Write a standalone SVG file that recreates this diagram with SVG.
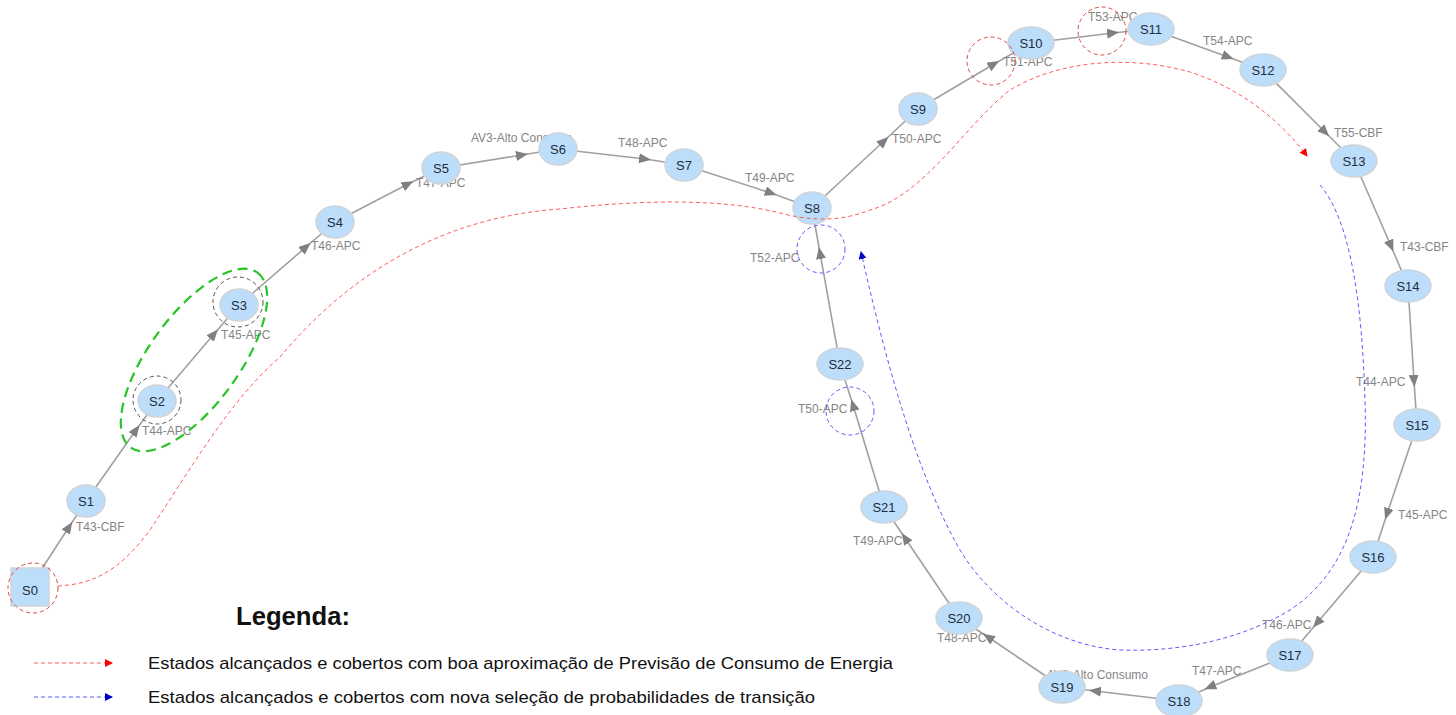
<svg xmlns="http://www.w3.org/2000/svg" width="1456" height="715" viewBox="0 0 1456 715">
  <defs>
    <style>
      .edge { fill: none; stroke: #a0a0a0; stroke-width: 1.6; marker-mid: url(#ah); }
      .elab { font-family: "Liberation Sans", Arial, sans-serif; font-size: 12px; fill: #858585; }
      .node ellipse, .node rect { fill: #bcdefb; stroke: #cfd4d8; stroke-width: 1.5; }
      .node text { font-family: "Liberation Sans", Arial, sans-serif; font-size: 13px; fill: #1e2d3d; text-anchor: middle; }
      .ring-red { fill: none; stroke: #e04848; stroke-width: 1; stroke-dasharray: 4 3; }
      .ring-blue { fill: none; stroke: #5a5aff; stroke-width: 1; stroke-dasharray: 4 3; }
      .ring-grey { fill: none; stroke: #555; stroke-width: 1; stroke-dasharray: 4 3; }
      .path-red { fill: none; stroke: #ff5a5a; stroke-width: 1; stroke-dasharray: 4 3; }
      .path-blue { fill: none; stroke: #5a5aff; stroke-width: 1; stroke-dasharray: 4 3; }
      .legend { font-family: "Liberation Sans", Arial, sans-serif; font-size: 17px; fill: #111; }
    </style>
    <marker id="ah" markerUnits="userSpaceOnUse" markerWidth="13" markerHeight="11" refX="6" refY="5" orient="auto">
      <path d="M0,0 L12,5 L0,10 z" fill="#808080"/>
    </marker>
    <marker id="ah-red" markerUnits="userSpaceOnUse" markerWidth="9" markerHeight="9" refX="7" refY="4" orient="auto">
      <path d="M0,0 L8,4 L0,8 z" fill="#ff0000"/>
    </marker>
    <marker id="ah-blue" markerUnits="userSpaceOnUse" markerWidth="9" markerHeight="9" refX="7" refY="4" orient="auto">
      <path d="M0,0 L8,4 L0,8 z" fill="#0000c8"/>
    </marker>
  </defs>

  <rect width="1456" height="715" fill="#ffffff"/>

  <!-- transitions -->
  <g id="connectors">
    <path class="edge" d="M30,587 L69,527 L86,501"/>
    <path class="edge" d="M86,501 L136,430 L157,401"/>
    <path class="edge" d="M157,401 L214,334 L239,305"/>
    <path class="edge" d="M239,305 L306,247 L335,222"/>
    <path class="edge" d="M335,222 L408,184 L441,168"/>
    <path class="edge" d="M441,168 L522,155 L558,149"/>
    <path class="edge" d="M558,149 L645,159 L684,165"/>
    <path class="edge" d="M684,165 L771,193 L812,208"/>
    <path class="edge" d="M812,208 L884,141 L918,109"/>
    <path class="edge" d="M918,109 L994,64 L1031,43"/>
    <path class="edge" d="M1031,43 L1113,33 L1151,29"/>
    <path class="edge" d="M1151,29 L1228,57 L1263,70"/>
    <path class="edge" d="M1263,70 L1325,132 L1354,161"/>
    <path class="edge" d="M1354,161 L1391,246 L1408,286"/>
    <path class="edge" d="M1408,286 L1414,381 L1417,425"/>
    <path class="edge" d="M1417,425 L1387,514 L1373,557"/>
    <path class="edge" d="M1373,557 L1317,623 L1290,655"/>
    <path class="edge" d="M1290,655 L1210,687 L1179,701"/>
    <path class="edge" d="M1179,701 L1095,691 L1062,687"/>
    <path class="edge" d="M1062,687 L988,637 L959,618"/>
    <path class="edge" d="M959,618 L905,538 L884,507"/>
    <path class="edge" d="M884,507 L853,405 L840,364"/>
    <path class="edge" d="M840,364 L820,253 L812,208"/>

    <text class="elab" x="76" y="531">T43-CBF</text>
    <text class="elab" x="142" y="435">T44-APC</text>
    <text class="elab" x="221" y="339">T45-APC</text>
    <text class="elab" x="311" y="250">T46-APC</text>
    <text class="elab" x="416" y="187">T47-APC</text>
    <text class="elab" x="471" y="142">AV3-Alto Consumo</text>
    <text class="elab" x="618" y="147">T48-APC</text>
    <text class="elab" x="745" y="182">T49-APC</text>
    <text class="elab" x="892" y="143">T50-APC</text>
    <text class="elab" x="1003" y="66">T51-APC</text>
    <text class="elab" x="1088" y="21">T53-APC</text>
    <text class="elab" x="1203" y="45">T54-APC</text>
    <text class="elab" x="1334" y="137">T55-CBF</text>
    <text class="elab" x="1400" y="251">T43-CBF</text>
    <text class="elab" x="1356" y="386">T44-APC</text>
    <text class="elab" x="1398" y="519">T45-APC</text>
    <text class="elab" x="1262" y="629">T46-APC</text>
    <text class="elab" x="1192" y="675">T47-APC</text>
    <text class="elab" x="1148" y="679" text-anchor="end">AV3-Alto Consumo</text>
    <text class="elab" x="937" y="642">T48-APC</text>
    <text class="elab" x="853" y="545">T49-APC</text>
    <text class="elab" x="798" y="413">T50-APC</text>
    <text class="elab" x="750" y="262">T52-APC</text>
  </g>

  <!-- states -->
  <g id="S0" class="node"><rect x="11" y="568" width="38" height="38" stroke="none"/><text x="30" y="595">S0</text></g>
  <g id="S1" class="node"><ellipse cx="86" cy="501" rx="19" ry="16"/><text x="86" y="506">S1</text></g>
  <g id="S2" class="node"><ellipse cx="157" cy="401" rx="19" ry="16"/><text x="157" y="406">S2</text></g>
  <g id="S3" class="node"><ellipse cx="239" cy="305" rx="19" ry="16"/><text x="239" y="310">S3</text></g>
  <g id="S4" class="node"><ellipse cx="335" cy="222" rx="19" ry="16"/><text x="335" y="227">S4</text></g>
  <g id="S5" class="node"><ellipse cx="441" cy="168" rx="19" ry="16"/><text x="441" y="173">S5</text></g>
  <g id="S6" class="node"><ellipse cx="558" cy="149" rx="19" ry="16"/><text x="558" y="154">S6</text></g>
  <g id="S7" class="node"><ellipse cx="684" cy="165" rx="19" ry="16"/><text x="684" y="170">S7</text></g>
  <g id="S8" class="node"><ellipse cx="812" cy="208" rx="19" ry="16"/><text x="812" y="213">S8</text></g>
  <g id="S9" class="node"><ellipse cx="918" cy="109" rx="19" ry="16"/><text x="918" y="114">S9</text></g>
  <g id="S10" class="node"><ellipse cx="1031" cy="43" rx="23" ry="16"/><text x="1031" y="48">S10</text></g>
  <g id="S11" class="node"><ellipse cx="1151" cy="29" rx="23" ry="16"/><text x="1151" y="34">S11</text></g>
  <g id="S12" class="node"><ellipse cx="1263" cy="70" rx="23" ry="16"/><text x="1263" y="75">S12</text></g>
  <g id="S13" class="node"><ellipse cx="1354" cy="161" rx="23" ry="16"/><text x="1354" y="166">S13</text></g>
  <g id="S14" class="node"><ellipse cx="1408" cy="286" rx="23" ry="16"/><text x="1408" y="291">S14</text></g>
  <g id="S15" class="node"><ellipse cx="1417" cy="425" rx="23" ry="16"/><text x="1417" y="430">S15</text></g>
  <g id="S16" class="node"><ellipse cx="1373" cy="557" rx="23" ry="16"/><text x="1373" y="562">S16</text></g>
  <g id="S17" class="node"><ellipse cx="1290" cy="655" rx="23" ry="16"/><text x="1290" y="660">S17</text></g>
  <g id="S18" class="node"><ellipse cx="1179" cy="701" rx="23" ry="16"/><text x="1179" y="706">S18</text></g>
  <g id="S19" class="node"><ellipse cx="1062" cy="687" rx="23" ry="16"/><text x="1062" y="692">S19</text></g>
  <g id="S20" class="node"><ellipse cx="959" cy="618" rx="23" ry="16"/><text x="959" y="623">S20</text></g>
  <g id="S21" class="node"><ellipse cx="884" cy="507" rx="23" ry="16"/><text x="884" y="512">S21</text></g>
  <g id="S22" class="node"><ellipse cx="840" cy="364" rx="23" ry="16"/><text x="840" y="369">S22</text></g>

  <!-- highlight marks -->
  <g id="highlights">
    <ellipse cx="194" cy="360" rx="108" ry="45" transform="rotate(-54 194 360)" fill="none" stroke="#27c427" stroke-width="2.2" stroke-dasharray="10 6"/>
    <circle class="ring-grey" cx="157" cy="400" r="24"/>
    <circle class="ring-grey" cx="238" cy="302" r="25"/>
    <circle class="ring-red" cx="33" cy="588" r="25"/>
    <circle class="ring-red" cx="991" cy="61" r="24"/>
    <circle class="ring-red" cx="1102" cy="31" r="24"/>
    <circle class="ring-blue" cx="821" cy="249" r="24"/>
    <circle class="ring-blue" cx="850" cy="411" r="24"/>

    <path class="path-red" marker-end="url(#ah-red)" d="M58,586 C95,584 120,570 150,530 C190,470 230,400 280,357 C340,285 430,218 560,209 C640,200 720,198 780,213 C810,221 840,222 870,210 C925,195 965,125 1010,90 C1060,60 1130,55 1190,72 C1240,88 1280,120 1307,156"/>
    <path class="path-blue" marker-end="url(#ah-blue)" d="M1320,185 C1350,220 1362,300 1365,400 C1368,500 1350,570 1290,610 C1240,640 1180,652 1120,650 C1050,645 990,600 960,550 C920,480 890,380 861,252"/>
  </g>

  <!-- legend -->
  <g id="legend">
    <text x="236" y="625" font-family="'Liberation Sans', Arial, sans-serif" font-size="26" font-weight="bold" fill="#111" textLength="114" lengthAdjust="spacingAndGlyphs">Legenda:</text>
    <line x1="34" y1="663" x2="112" y2="663" class="path-red" marker-end="url(#ah-red)"/>
    <text class="legend" x="148" y="669" textLength="745" lengthAdjust="spacingAndGlyphs">Estados alcançados e cobertos com boa aproximação de Previsão de Consumo de Energia</text>
    <line x1="34" y1="697" x2="112" y2="697" class="path-blue" marker-end="url(#ah-blue)"/>
    <text class="legend" x="148" y="703" textLength="667" lengthAdjust="spacingAndGlyphs">Estados alcançados e cobertos com nova seleção de probabilidades de transição</text>
  </g>
</svg>
